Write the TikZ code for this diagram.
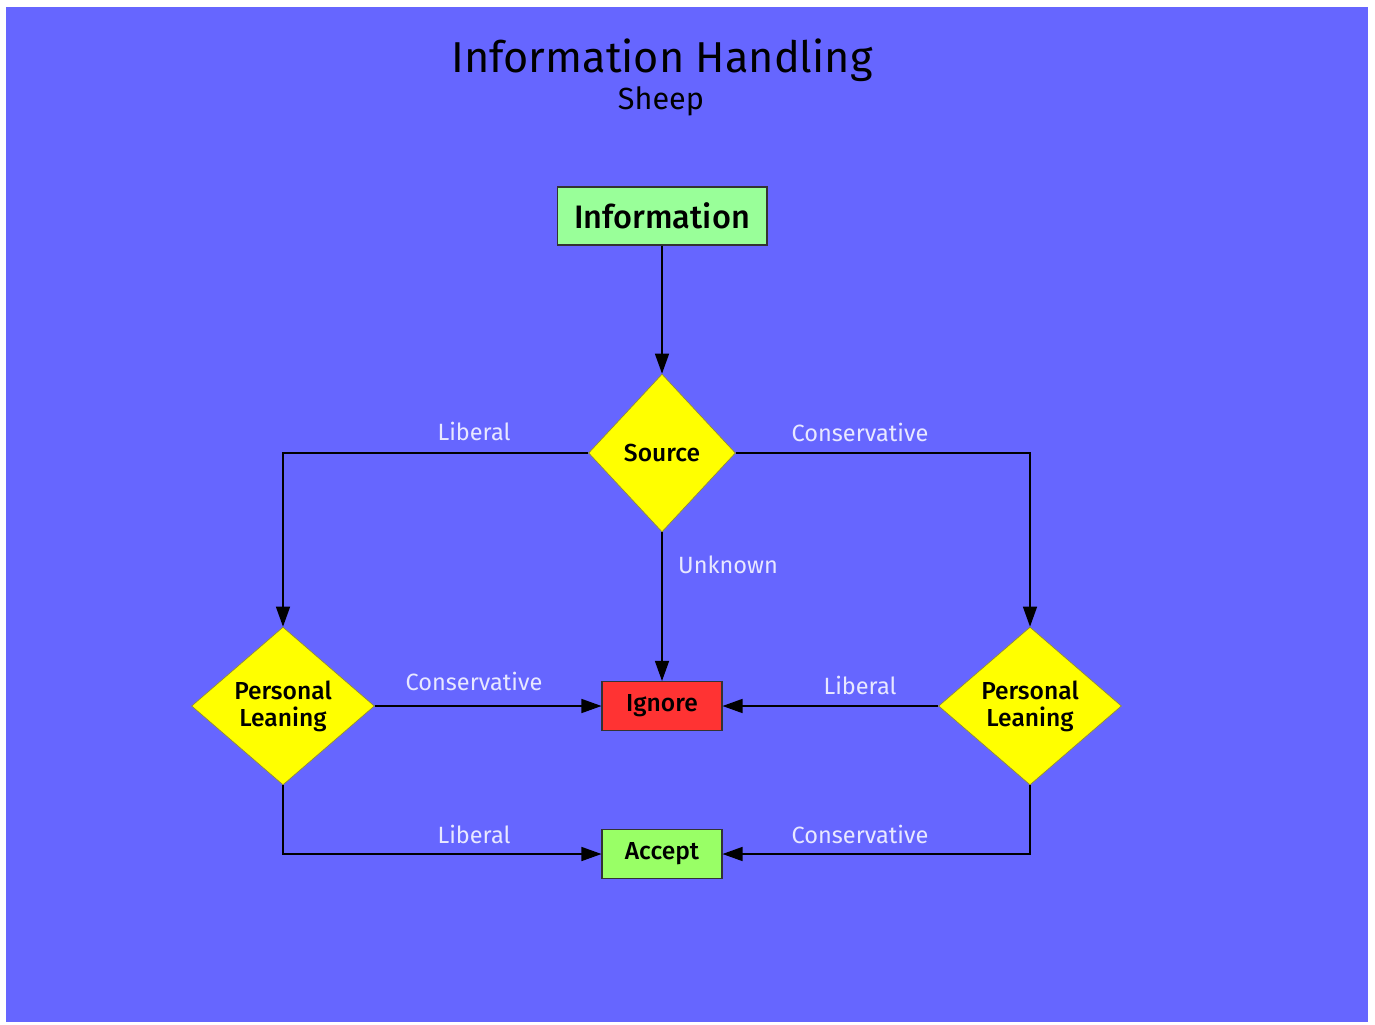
\documentclass[tikz,border=0pt]{standalone}
\usepackage{fontspec}
\setmainfont{Fira Sans}[BoldFont={Fira Sans Medium}]
\usetikzlibrary{shapes.geometric,arrows.meta}
\definecolor{fons}{RGB}{102,102,255}
\definecolor{verdinfo}{RGB}{153,255,153}
\definecolor{verdacc}{RGB}{153,255,102}
\definecolor{vermell}{RGB}{255,51,51}
\definecolor{groc}{RGB}{255,255,0}
\definecolor{etiqueta}{RGB}{232,232,255}

\begin{document}
\begin{tikzpicture}[x=0.02cm,y=-0.02cm,
		caixa/.style={rectangle,draw=black!80,line width=0.6pt,inner sep=0pt,font=\bfseries\fontsize{14}{16}\selectfont},
		rombe/.style={diamond,draw=olive!60!gray,line width=0.4pt,fill=groc,inner sep=0pt,align=center,font=\bfseries\fontsize{14}{15.3}\selectfont},
		fletxa/.style={line width=0.8pt,-{Triangle[length=0.4cm,width=0.28cm]}},
		etiq/.style={text=etiqueta,font=\fontsize{13.4}{15}\selectfont}]
				%Fons
				\useasboundingbox (0,0) rectangle (1375,1024);
				\fill[white] (0,0) rectangle (1375,1024);
				\fill[fons] (6,7) rectangle (1368,1022);
				%Titol
				\node (titol) at (662,60) {\fontsize{24.6}{28}\selectfont Information Handling};
				\node (subtitol) at (661,101) {\fontsize{17.4}{20}\selectfont Sheep};
				%Caixes
				\node[caixa,fill=verdinfo,minimum width=4.2cm,minimum height=1.16cm,font=\bfseries\fontsize{18.5}{21}\selectfont] (info) at (662,216) {Information};
				\node[caixa,fill=vermell,minimum width=2.4cm,minimum height=0.98cm] (ignora) at (662,706) {\raisebox{-1.6pt}{Ignore}};
				\node[caixa,fill=verdacc,minimum width=2.4cm,minimum height=0.98cm] (accepta) at (662,854) {\raisebox{-1.6pt}{Accept}};
				%Rombes
				\node[rombe,minimum width=2.94cm,minimum height=3.16cm] (font) at (662,453) {\raisebox{-1pt}{Source}};
				\node[rombe,minimum width=3.66cm,minimum height=3.16cm] (persE) at (283,706) {\raisebox{-1.5pt}{Personal}\\\raisebox{-1.5pt}{Leaning}};
				\node[rombe,minimum width=3.66cm,minimum height=3.16cm] (persD) at (1030,706) {\raisebox{-1.5pt}{Personal}\\\raisebox{-1.5pt}{Leaning}};
				%Fletxes
				\draw[fletxa] (info) -- (font);
				\draw[fletxa] (font.west) -| (persE.north);
				\draw[fletxa] (font.east) -| (persD.north);
				\draw[fletxa] (font.south) -- (ignora.north);
				\draw[fletxa] (persE.east) -- (ignora.west);
				\draw[fletxa] (persD.west) -- (ignora.east);
				\draw[fletxa] (persE.south) |- (accepta.west);
				\draw[fletxa] (persD.south) |- (accepta.east);
				%Etiquetes
				\node[etiq] (eLib1) at (474,431) {Liberal};
				\node[etiq] (eCon1) at (860,432) {Conservative};
				\node[etiq,anchor=west] (eDesc) at (672,565) {Unknown};
				\node[etiq] (eCon2) at (474,681) {Conservative};
				\node[etiq] (eLib2) at (860,685) {Liberal};
				\node[etiq] (eLib3) at (474,834) {Liberal};
				\node[etiq] (eCon3) at (860,834) {Conservative};
			\end{tikzpicture}
\end{document}
